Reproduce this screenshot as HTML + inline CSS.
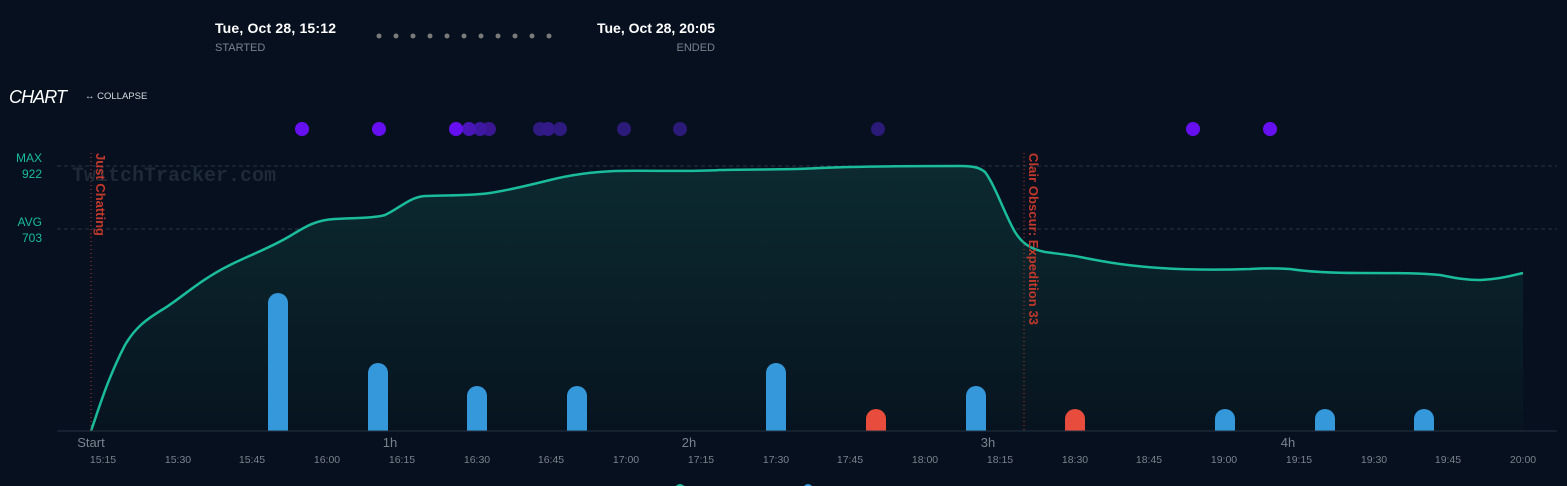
<!DOCTYPE html>
<html><head><meta charset="utf-8"><style>
html,body{margin:0;padding:0;background:#06101f;width:1567px;height:486px;overflow:hidden;font-family:"Liberation Sans",sans-serif;}
</style></head><body>
<svg width="1567" height="486" viewBox="0 0 1567 486" xmlns="http://www.w3.org/2000/svg" style="position:absolute;left:0;top:0">
<defs>
<linearGradient id="g" x1="0" y1="0" x2="0" y2="1">
<stop offset="0" stop-color="#0c2a30"/><stop offset="1" stop-color="#07141f"/>
</linearGradient>
</defs>
<text x="215" y="33" fill="#fff" font-size="14" font-weight="bold" textLength="121">Tue, Oct 28, 15:12</text>
<text x="215" y="51" fill="#7a828c" font-size="11">STARTED</text>
<text x="715" y="33" fill="#fff" font-size="14" font-weight="bold" text-anchor="end">Tue, Oct 28, 20:05</text>
<text x="715" y="51" fill="#7a828c" font-size="11" text-anchor="end">ENDED</text>
<g fill="#7a7a7a">
<circle cx="379" cy="36" r="2.5"/><circle cx="396" cy="36" r="2.5"/><circle cx="413" cy="36" r="2.5"/><circle cx="430" cy="36" r="2.5"/><circle cx="447" cy="36" r="2.5"/><circle cx="464" cy="36" r="2.5"/><circle cx="481" cy="36" r="2.5"/><circle cx="498" cy="36" r="2.5"/><circle cx="515" cy="36" r="2.5"/><circle cx="532" cy="36" r="2.5"/><circle cx="549" cy="36" r="2.5"/>
</g>
<text x="9" y="103" fill="#fff" font-size="18" font-style="italic" textLength="58">CHART</text>
<text x="85" y="99" fill="#d8dce0" font-size="9.5">↔ COLLAPSE</text>
<g>
<circle cx="302" cy="129" r="7" fill="#6610f2"/><circle cx="379" cy="129" r="7" fill="#6610f2"/>
<circle cx="489" cy="129" r="7" fill="#3a1790"/><circle cx="480" cy="129" r="7" fill="#3e18a0"/><circle cx="469" cy="129" r="7" fill="#4a16b8"/><circle cx="456" cy="129" r="7" fill="#6610f2"/>
<circle cx="540" cy="129" r="7" fill="#2f1a80"/><circle cx="548" cy="129" r="7" fill="#331a88"/><circle cx="560" cy="129" r="7" fill="#2f1a80"/>
<circle cx="624" cy="129" r="7" fill="#2b1a78"/><circle cx="680" cy="129" r="7" fill="#2b1a78"/><circle cx="878" cy="129" r="7" fill="#2b1a78"/>
<circle cx="1193" cy="129" r="7" fill="#6610f2"/><circle cx="1270" cy="129" r="7" fill="#6610f2"/>
</g>
<text x="42" y="162" fill="#1abc9c" font-size="12" text-anchor="end">MAX</text>
<text x="42" y="178" fill="#1abc9c" font-size="12" text-anchor="end">922</text>
<text x="42" y="226" fill="#1abc9c" font-size="12" text-anchor="end">AVG</text>
<text x="42" y="242" fill="#1abc9c" font-size="12" text-anchor="end">703</text>
<line x1="57" y1="166" x2="1557" y2="166" stroke="#2a3440" stroke-dasharray="4,3"/>
<line x1="57" y1="229" x2="1557" y2="229" stroke="#2a3440" stroke-dasharray="4,3"/>
<text x="72" y="181" fill="#1e2a36" font-size="20" font-family="Liberation Mono,monospace" font-weight="bold" textLength="204">TwitchTracker.com</text>
<path d="M91,431 C100,405 108,378 125,345 C135,328 145,320 165,308 C185,295 200,280 230,265 C250,255 270,248 290,236 C305,227 315,220 335,219 C355,218 375,218 385,215 C400,208 410,197 425,196 C445,195 470,196 490,193 C510,190 530,185 550,180 C570,175 590,172 615,171 C650,170 690,172 720,170 C760,169 790,170 820,168 C860,166 920,166 960,166 C975,166 980,168 985,172 C995,185 1005,215 1015,232 C1022,243 1030,249 1045,252 C1060,254 1070,255 1080,257 C1110,263 1130,266 1160,268 C1190,270 1220,270 1250,269 C1265,268 1275,268 1290,269 C1310,272 1330,273 1360,273 C1400,273 1420,273 1440,275 C1455,278 1465,280 1480,280 C1500,279 1510,276 1523,273 L1523,431 L91,431 Z" fill="url(#g)"/>
<g fill="#3498db">
<path d="M268,431 V303 a10,10 0 0 1 20,0 V431 Z"/>
<path d="M368,431 V373 a10,10 0 0 1 20,0 V431 Z"/>
<path d="M467,431 V396 a10,10 0 0 1 20,0 V431 Z"/>
<path d="M567,431 V396 a10,10 0 0 1 20,0 V431 Z"/>
<path d="M766,431 V373 a10,10 0 0 1 20,0 V431 Z"/>
<path d="M966,431 V396 a10,10 0 0 1 20,0 V431 Z"/>
<path d="M1215,431 V419 a10,10 0 0 1 20,0 V431 Z"/>
<path d="M1315,431 V419 a10,10 0 0 1 20,0 V431 Z"/>
<path d="M1414,431 V419 a10,10 0 0 1 20,0 V431 Z"/>
</g>
<g fill="#e74c3c">
<path d="M866,431 V419 a10,10 0 0 1 20,0 V431 Z"/>
<path d="M1065,431 V419 a10,10 0 0 1 20,0 V431 Z"/>
</g>
<path d="M91,431 C100,405 108,378 125,345 C135,328 145,320 165,308 C185,295 200,280 230,265 C250,255 270,248 290,236 C305,227 315,220 335,219 C355,218 375,218 385,215 C400,208 410,197 425,196 C445,195 470,196 490,193 C510,190 530,185 550,180 C570,175 590,172 615,171 C650,170 690,172 720,170 C760,169 790,170 820,168 C860,166 920,166 960,166 C975,166 980,168 985,172 C995,185 1005,215 1015,232 C1022,243 1030,249 1045,252 C1060,254 1070,255 1080,257 C1110,263 1130,266 1160,268 C1190,270 1220,270 1250,269 C1265,268 1275,268 1290,269 C1310,272 1330,273 1360,273 C1400,273 1420,273 1440,275 C1455,278 1465,280 1480,280 C1500,279 1510,276 1523,273" fill="none" stroke="#1abc9c" stroke-width="2.5"/>
<line x1="91" y1="153" x2="91" y2="431" stroke="#c0392b" stroke-dasharray="1,3"/>
<line x1="1024" y1="153" x2="1024" y2="431" stroke="#c0392b" stroke-dasharray="1,3"/>
<text transform="translate(96,153) rotate(90)" fill="#c0392b" font-size="13" font-weight="bold" textLength="83">Just Chatting</text>
<text transform="translate(1029,153) rotate(90)" fill="#c0392b" font-size="13" font-weight="bold" textLength="172">Clair Obscur: Expedition 33</text>
<line x1="57" y1="431" x2="1557" y2="431" stroke="#243040"/>
<g fill="#7a828c" font-size="13" text-anchor="middle">
<text x="91" y="447">Start</text><text x="390" y="447">1h</text><text x="689" y="447">2h</text><text x="988" y="447">3h</text><text x="1288" y="447">4h</text>
</g>
<g fill="#7a828c" font-size="10.5" text-anchor="middle">
<text x="103" y="463">15:15</text><text x="178" y="463">15:30</text><text x="252" y="463">15:45</text><text x="327" y="463">16:00</text><text x="402" y="463">16:15</text><text x="477" y="463">16:30</text><text x="551" y="463">16:45</text><text x="626" y="463">17:00</text><text x="701" y="463">17:15</text><text x="776" y="463">17:30</text><text x="850" y="463">17:45</text><text x="925" y="463">18:00</text><text x="1000" y="463">18:15</text><text x="1075" y="463">18:30</text><text x="1149" y="463">18:45</text><text x="1224" y="463">19:00</text><text x="1299" y="463">19:15</text><text x="1374" y="463">19:30</text><text x="1448" y="463">19:45</text><text x="1523" y="463">20:00</text>
</g>
<circle cx="680" cy="489" r="5" fill="#1abc9c"/>
<circle cx="808" cy="489" r="5" fill="#3498db"/>
</svg>
</body></html>
